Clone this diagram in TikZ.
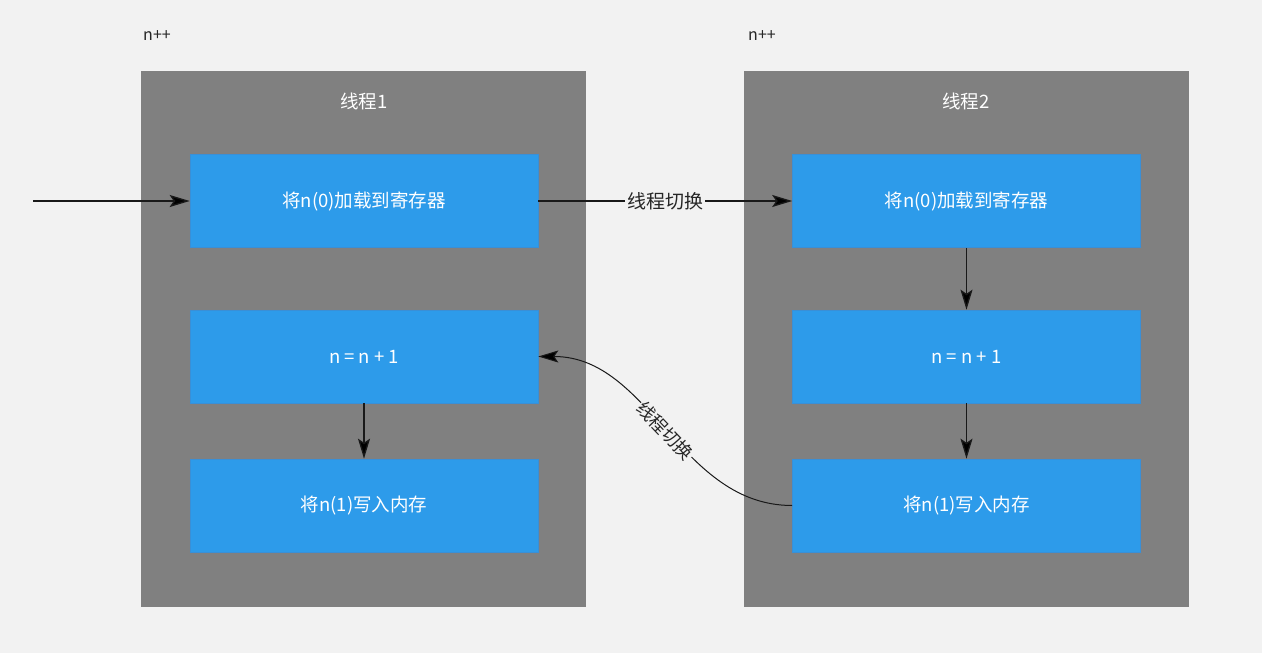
\documentclass[tikz,border=0pt]{standalone}
\usepackage{fontspec}
\setmainfont{Noto Sans CJK SC}
\usetikzlibrary{arrows.meta}
\definecolor{bgc}{HTML}{F2F2F2}
\definecolor{grayc}{HTML}{808080}
\definecolor{bluec}{HTML}{2D9BEA}
\definecolor{blueb}{HTML}{3A8FD6}
\begin{document}
\begin{tikzpicture}[x=1pt,y=-1pt,
  thread/.style={fill=grayc,draw=none,minimum width=445pt,minimum height=536pt,inner sep=0pt,anchor=north west},
  stepbox/.style={fill=bluec,draw=blueb,line width=0.6pt,minimum width=348pt,minimum height=93pt,inner sep=0pt,text=white,font=\fontsize{18.5}{22}\selectfont},
  ttl/.style={text=white,font=\fontsize{18.5}{22}\selectfont},
  nlabel/.style={text=black!85,font=\fontsize{16}{19}\selectfont},
  conn/.style={draw=black!90,line width=1.3pt,-{Stealth[length=20pt,width=12pt,inset=4pt,fill=black]}},
  clabel/.style={fill=bgc,text=black!85,inner sep=2pt,font=\fontsize{19}{22}\selectfont}]
\fill[bgc] (0,0) rectangle (1262,653);
\useasboundingbox (0,0) rectangle (1262,653);
\node[thread] (t1) at (141,71) {};
\node[thread] (t2) at (744,71) {};
\node[nlabel] (n1) at (157,36) {n++};
\node[nlabel] (n2) at (762,36) {n++};
\node[ttl] (h1) at (364,101) {线程1};
\node[ttl] (h2) at (966,101) {线程2};
\node[stepbox] (l1) at (364,201) {将n(0)加载到寄存器};
\node[stepbox] (l2) at (364,356.5) {n = n + 1};
\node[stepbox] (l3) at (364,505.5) {将n(1)写入内存};
\node[stepbox] (r1) at (966.5,201) {将n(0)加载到寄存器};
\node[stepbox] (r2) at (966.5,356.5) {n = n + 1};
\node[stepbox] (r3) at (966.5,505.5) {将n(1)写入内存};
\coordinate (in) at (33,201);
\draw[conn] (in) -- (l1.west);
\draw[conn] (l1.east) -- node[clabel] {线程切换} (r1.west);
\draw[conn] (l2.south) -- (l3.north);
\draw[conn] (r1.south) -- (r2.north);
\draw[conn] (r2.south) -- (r3.north);
\draw[conn,line width=1pt] (r3.west) .. controls (680,505.5) and (650,356.5) .. node[clabel,sloped,inner sep=1pt,font=\fontsize{18}{21}\selectfont] {线程切换} (l2.east);
\end{tikzpicture}
\end{document}
